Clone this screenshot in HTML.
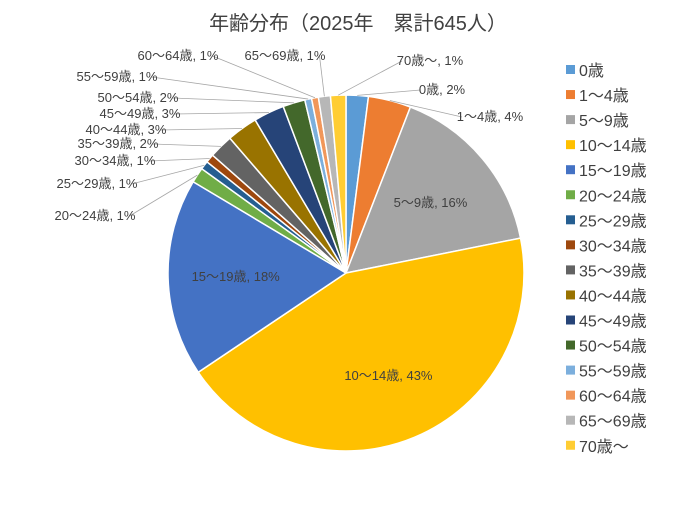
<!DOCTYPE html>
<html><head><meta charset="utf-8">
<style>
body{margin:0;background:#fff;font-family:"Liberation Sans","Noto Sans CJK JP",sans-serif;}
svg text{font-family:"Liberation Sans","Noto Sans CJK JP",sans-serif;fill:#404040;}
</style></head>
<body>
<svg id="chart" width="690" height="512">
<text x="358" y="30" font-size="20" text-anchor="middle">年齢分布（2025年　累計645人）</text>
<g id="slices"></g><g id="labels"></g><g id="legend"></g>
</svg>
<script>
const categories=["0歳","1～4歳","5～9歳","10～14歳","15～19歳","20～24歳","25～29歳","30～34歳","35～39歳","40～44歳","45～49歳","50～54歳","55～59歳","60～64歳","65～69歳","70歳～"];
const counts=[13,25,103,282,116,9,5,5,14,18,18,13,4,4,7,9];
const percentLabels=["2%","4%","16%","43%","18%","1%","1%","1%","2%","3%","3%","2%","1%","1%","1%","1%"];
const colors=["#5B9BD5","#ED7D31","#A5A5A5","#FFC000","#4472C4","#70AD47","#255E91","#9E480E","#636363","#997300","#264478","#43682B","#7CAFDD","#F1975A","#B7B7B7","#FFCD33"];
// outside label placement (layout, not data): null = inside label
const labelPos=[[442,94],[490,121],null,null,null,[95,220],[97,188],[115,165],[118,148],[126,134],[140,118],[138,102],[117,81],[178,60],[285,60],[430,65]];
const NS="http://www.w3.org/2000/svg";
const cx=346,cy=273,r=178;
const total=counts.reduce((a,b)=>a+b,0);
function pt(a,rr){return [cx+rr*Math.sin(a),cy-rr*Math.cos(a)];}
const gs=document.getElementById("slices"),gl=document.getElementById("labels"),gg=document.getElementById("legend");
let a0=0;
counts.forEach((v,i)=>{
  const a1=a0+v/total*2*Math.PI;
  const p0=pt(a0,r),p1=pt(a1,r);
  const large=(a1-a0)>Math.PI?1:0;
  const p=document.createElementNS(NS,"path");
  p.setAttribute("d",`M${cx},${cy}L${p0[0]},${p0[1]}A${r},${r} 0 ${large} 1 ${p1[0]},${p1[1]}Z`);
  p.setAttribute("fill",colors[i]);p.setAttribute("stroke","#fff");p.setAttribute("stroke-width","1.5");
  
  
  gs.appendChild(p);
  const am=(a0+a1)/2;
  const t=document.createElementNS(NS,"text");
  t.setAttribute("font-size","13");t.setAttribute("text-anchor","middle");
  t.textContent=categories[i]+", "+percentLabels[i];
  
  
  if(labelPos[i]){
    t.setAttribute("x",labelPos[i][0]);t.setAttribute("y",labelPos[i][1]);
    const e=pt(am,r);
    const ln=document.createElementNS(NS,"line");
    const w=t.textContent.length*6.5;
    let lx=labelPos[i][0],ly=labelPos[i][1]-4;
    if(labelPos[i][0]<cx){lx+=w/2+2;}else{lx-=w/2+2;}
    ln.setAttribute("x1",e[0]);ln.setAttribute("y1",e[1]);ln.setAttribute("x2",lx);ln.setAttribute("y2",ly);
    ln.setAttribute("stroke","#a6a6a6");ln.setAttribute("stroke-width","0.8");
    
    
    gl.appendChild(ln);
  } else {
    const c=pt(am,r*0.62);
    t.setAttribute("x",c[0]);t.setAttribute("y",c[1]+5);
  }
  gl.appendChild(t);
  a0=a1;
});
categories.forEach((c,i)=>{
  const y=70+i*25.05;
  const s=document.createElementNS(NS,"rect");
  s.setAttribute("x",566);s.setAttribute("y",y-5);s.setAttribute("width",9);s.setAttribute("height",9);s.setAttribute("fill",colors[i]);
  
  
  gg.appendChild(s);
  const t=document.createElementNS(NS,"text");
  t.setAttribute("x",579);t.setAttribute("y",y+6);t.setAttribute("font-size","16");
  t.textContent=c;
  
  
  gg.appendChild(t);
});
</script>
</body></html>
